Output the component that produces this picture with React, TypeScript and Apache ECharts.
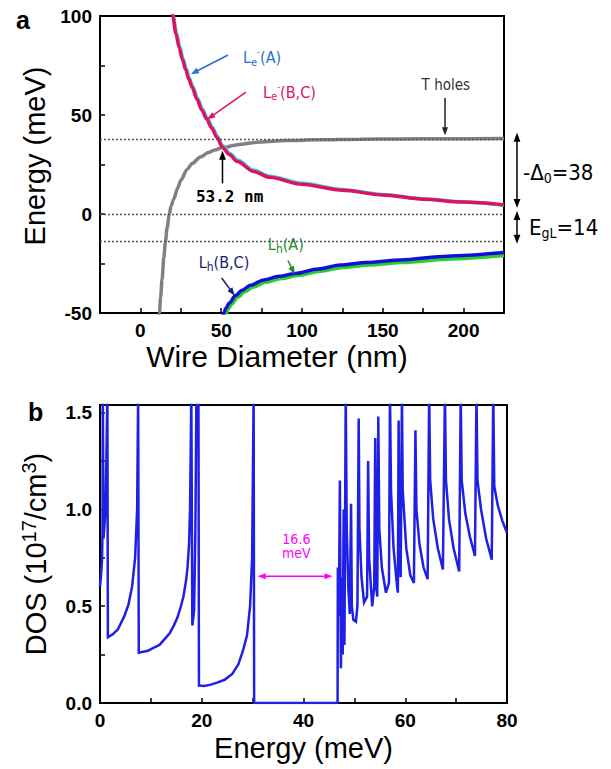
import React, { useEffect, useRef } from 'react';
import * as echarts from 'echarts';

// ---------- panel a data (Wire Diameter nm, Energy meV) ----------
const tHoles: number[][] = [
  [11.6, -52], [11.8, -50], [12.5, -42], [13.4, -33], [14.5, -22], [15.5, -14], [16.5, -7], [17.9, 0],
  [19, 4], [20.6, 7.5], [23, 13], [25, 17], [28.9, 22.5], [32, 25.5], [37.1, 28.8], [42, 31],
  [46, 32.3], [50.5, 33.4], [60, 35], [74, 36.4], [90, 37.1], [110, 37.5], [136, 37.8],
  [160, 37.9], [190, 38], [225, 38.1],
];
const leA: number[][] = [
  [19.8, 103], [20.3, 100], [22.3, 91.6], [24.3, 84.6], [26.3, 78.6], [28.3, 73.6], [30.3, 68.7],
  [32.3, 64.6], [35.3, 58.6], [38.3, 53.2], [41.3, 48.6], [44.3, 44.1], [47.8, 39.1], [50.8, 34.6],
  [55.3, 30.6], [60.3, 27.1], [70.3, 22.1], [80, 19.1], [100, 15.5], [125, 12.4], [150, 9.9],
  [175, 7.7], [200, 6.1], [225, 4.4],
];
const leBC: number[][] = [
  [19.5, 103], [20, 100], [22, 91], [24, 84], [26, 78], [28, 73], [30, 68], [32, 64], [35, 58],
  [38, 52.5], [41, 48], [44, 43.5], [47.5, 38.5], [50.5, 34], [55, 30], [60, 26.5], [70, 21.5],
  [80, 18.5], [100, 15], [125, 12], [150, 9.6], [175, 7.5], [200, 6], [225, 4.6],
];
const lhA: number[][] = [
  [52.5, -51], [53.1, -50], [54.5, -47.8], [56.5, -45.5], [60.3, -42], [64.5, -39.3], [69.5, -37],
  [77.8, -34.4], [87.5, -32.6], [97.4, -31.1], [111.5, -28.9], [125.3, -27], [141.5, -25.8],
  [162.4, -24.5], [191.5, -22.7], [225, -21],
];
const lhBC: number[][] = [
  [51, -51], [51.6, -50], [53, -47.5], [55, -45], [58.8, -41.2], [63, -38.5], [68, -36],
  [76.3, -33.3], [86, -31.5], [95.9, -30], [110, -27.8], [123.8, -25.8], [140, -24.5],
  [160.9, -23.2], [190, -21.3], [225, -19.5],
];
const levelLines = [38, 0, -14];

// ---------- panel b data (Energy meV, DOS 1e17/cm3) ----------
const dos: number[][] = [
  [0, 0.6], [0.2, 0.66], [0.4, 0.74], [0.5, 0.9], [0.55, 1.6], [0.7, 0.85], [1.1, 1.0], [1.45, 1.6], [1.55, 0.34],
  [2.5, 0.355], [3.5, 0.38], [4.8, 0.45], [5.6, 0.51], [6.3, 0.6], [6.9, 0.75], [7.3, 1.0], [7.5, 1.6], [7.62, 0.26],
  [8.5, 0.265], [9.4, 0.27], [10.5, 0.285], [11.7, 0.3], [12.7, 0.33], [13.7, 0.36], [14.5, 0.4], [15.2, 0.44],
  [15.9, 0.5], [16.4, 0.55], [16.9, 0.63], [17.2, 0.7], [17.5, 0.82], [17.7, 1.0], [17.95, 1.6], [18.15, 0.4],
  [18.5, 0.48], [18.75, 0.9], [18.95, 1.6], [19.35, 1.6], [19.45, 0.09],
  [20.5, 0.088], [21.8, 0.095], [23, 0.105], [24.5, 0.12], [26, 0.15], [27.2, 0.2], [28.1, 0.27], [28.9, 0.35],
  [29.5, 0.5], [29.9, 0.75], [30.2, 1.6], [30.3, 0], [46.7, 0],
  [46.75, 0.7], [46.95, 0.45], [47.15, 1.15], [47.35, 0.18], [47.55, 0.65], [47.7, 0.25], [47.9, 1.0], [48.05, 0.3],
  [48.3, 1.6], [48.5, 0.9], [48.8, 0.6], [49.1, 0.46], [49.35, 1.03], [49.5, 0.5], [49.8, 0.43], [50.3, 0.42],
  [50.6, 0.5], [50.85, 1.47], [51.0, 0.9], [51.4, 0.65], [51.9, 0.52], [52.5, 0.55], [52.7, 1.25], [52.9, 0.75],
  [53.5, 0.5], [53.9, 0.6], [54.1, 1.37], [54.3, 0.6], [54.5, 0.55], [54.7, 1.48], [54.9, 0.9], [55.4, 0.7],
  [56.2, 0.57], [56.8, 0.62], [57.0, 1.6], [57.2, 1.1], [57.7, 0.8], [58.4, 0.6], [58.55, 0.57], [58.7, 1.46],
  [58.85, 0.85], [59.1, 0.65], [59.35, 1.6], [59.5, 1.1], [60.2, 0.8], [61.0, 0.66], [61.7, 0.62], [62.0, 1.41],
  [62.2, 1.0], [62.8, 0.82], [63.6, 0.7], [64.4, 0.64], [64.7, 1.6], [64.9, 1.15], [65.5, 0.95], [66.4, 0.8],
  [67.4, 0.69], [67.8, 1.6], [68.0, 1.15], [68.6, 0.95], [69.5, 0.8], [70.6, 0.68], [70.9, 1.6], [71.1, 1.15],
  [71.8, 0.98], [72.7, 0.86], [73.7, 0.76], [74.0, 1.6], [74.2, 1.15], [74.9, 1.0], [75.9, 0.85], [77.0, 0.74],
  [77.3, 1.6], [77.5, 1.12], [78.2, 1.02], [79.1, 0.94], [80.0, 0.88],
];

// ---------- layout ----------
const G1 = { left: 100, top: 16, width: 404, height: 297 };
const X1 = [-25, 225];
const Y1 = [-50, 100];
const G2 = { left: 100, top: 405, width: 407, height: 298 };
const X2 = [0, 80];
const Y2 = [0, 1.54];

const px1 = (x: number) => G1.left + ((x - X1[0]) / (X1[1] - X1[0])) * G1.width;
const py1 = (y: number) => G1.top + ((Y1[1] - y) / (Y1[1] - Y1[0])) * G1.height;
const px2 = (x: number) => G2.left + ((x - X2[0]) / (X2[1] - X2[0])) * G2.width;
const py2 = (y: number) => G2.top + ((Y2[1] - y) / (Y2[1] - Y2[0])) * G2.height;

const SANS = "'DejaVu Sans Condensed', 'DejaVu Sans', sans-serif";
const ARIAL = "'Liberation Sans', Arial, sans-serif";

function head(x: number, y: number, ux: number, uy: number, color: string, size: number) {
  const bx = x - ux * size;
  const by = y - uy * size;
  const nx = -uy * size * 0.38;
  const ny = ux * size * 0.38;
  return {
    type: 'polygon',
    silent: true,
    z: 50,
    shape: { points: [[x, y], [bx + nx, by + ny], [bx - nx, by - ny]] },
    style: { fill: color },
  };
}

function arrow(x1: number, y1: number, x2: number, y2: number, color: string, width = 1.5, size = 8, double = false) {
  const len = Math.hypot(x2 - x1, y2 - y1);
  const ux = (x2 - x1) / len;
  const uy = (y2 - y1) / len;
  const sx = double ? x1 + ux * size * 0.8 : x1;
  const sy = double ? y1 + uy * size * 0.8 : y1;
  const els: any[] = [
    {
      type: 'line',
      silent: true,
      z: 50,
      shape: { x1: sx, y1: sy, x2: x2 - ux * size * 0.8, y2: y2 - uy * size * 0.8 },
      style: { stroke: color, lineWidth: width },
    },
    head(x2, y2, ux, uy, color, size),
  ];
  if (double) els.push(head(x1, y1, -ux, -uy, color, size));
  return els;
}

function txt(x: number, y: number, text: string, style: any, align = 'left', rotation = 0) {
  return {
    type: 'text',
    silent: true,
    z: 60,
    x,
    y,
    rotation,
    style: { text, align, verticalAlign: 'middle', ...style },
  };
}

export default function App() {
  const ref = useRef<HTMLDivElement>(null);

  useEffect(() => {
    if (!ref.current) return;
    const chart = echarts.init(ref.current, undefined, { renderer: 'svg' });

    const axisCommon = {
      axisLine: { show: true, onZero: false, lineStyle: { color: '#000', width: 2 } },
      axisTick: { show: true, inside: true, length: 5, lineStyle: { color: '#000', width: 1.5 } },
      splitLine: { show: false },
    };
    const tickLabel = {
      color: '#000',
      fontFamily: ARIAL,
      fontWeight: 'bold' as const,
      fontSize: 19,
      margin: 8,
    };
    const nameStyle = { color: '#000', fontFamily: ARIAL, fontSize: 29 };

    const curve = (name: string, data: number[][], color: string, width: number, idx: number) => ({
      name,
      type: 'line',
      xAxisIndex: idx,
      yAxisIndex: idx,
      data,
      symbol: 'none',
      smooth: 0.3,
      smoothMonotone: 'x',
      clip: true,
      lineStyle: { color, width },
      silent: true,
    });

    const graphics: any[] = [
      txt(16, 20, 'a', { fontSize: 25, fontWeight: 'bold', fontFamily: ARIAL, fill: '#000' }),
      txt(28, 412, 'b', { fontSize: 25, fontWeight: 'bold', fontFamily: ARIAL, fill: '#000' }),
      // axis titles of panel a
      txt(277, 356, 'Wire Diameter (nm)', { fontSize: 30, fontFamily: ARIAL, fill: '#000' }, 'center'),
      txt(35, 156, 'Energy (meV)', { fontSize: 29, fontFamily: ARIAL, fill: '#000' }, 'center', Math.PI / 2),
      // Le-(A)
      txt(px1(63.5), py1(79), '{n|L}{s|e}{p|-}{n|(A)}', {
        fill: '#2a6fd6',
        rich: {
          n: { fontSize: 16, fontFamily: SANS, fill: '#2a6fd6', lineHeight: 20 },
          s: { fontSize: 11, fontFamily: SANS, fill: '#2a6fd6', lineHeight: 13, verticalAlign: 'bottom' },
          p: { fontSize: 9, fontFamily: SANS, fill: '#2a6fd6', lineHeight: 12, verticalAlign: 'top' },
        },
      }),
      ...arrow(px1(54.2), py1(80.3), px1(31.2), py1(70.6), '#2a6fd6', 1.5, 8),
      // Le-(B,C)
      txt(px1(75.9), py1(61.6), '{n|L}{s|e}{p|-}{n|(B,C)}', {
        fill: '#e0115f',
        rich: {
          n: { fontSize: 16, fontFamily: SANS, fill: '#e0115f', lineHeight: 20 },
          s: { fontSize: 11, fontFamily: SANS, fill: '#e0115f', lineHeight: 13, verticalAlign: 'bottom' },
          p: { fontSize: 9, fontFamily: SANS, fill: '#e0115f', lineHeight: 12, verticalAlign: 'top' },
        },
      }),
      ...arrow(px1(65.3), py1(61.6), px1(41.4), py1(47.8), '#e0115f', 1.5, 8),
      // T holes
      txt(px1(189), py1(65), 'T holes', { fontSize: 15, fontFamily: SANS, fill: '#333' }, 'center'),
      ...arrow(px1(188.5), py1(58.6), px1(188.5), py1(39.8), '#222', 1.5, 8),
      // 53.2 nm
      txt(px1(55.2), py1(9), '53.2 nm', { fontSize: 16, fontWeight: 'bold', fontFamily: "'DejaVu Sans Mono', monospace", fill: '#000' }, 'center'),
      ...arrow(px1(50.8), py1(15.5), px1(50.8), py1(32), '#000', 1.5, 9),
      // Lh(B,C)
      txt(px1(51.7), py1(-24.7), '{n|L}{s|h}{n|(B,C)}', {
        fill: '#1b1b6e',
        align: 'center',
        rich: {
          n: { fontSize: 16, fontFamily: SANS, fill: '#1b1b6e', lineHeight: 20 },
          s: { fontSize: 12, fontFamily: SANS, fill: '#1b1b6e', lineHeight: 14, verticalAlign: 'bottom' },
        },
      }, 'center'),
      ...arrow(px1(50.3), py1(-32.3), px1(58.3), py1(-41.2), '#1b1b6e', 1.5, 8),
      // Lh(A)
      txt(px1(90), py1(-15.5), '{n|L}{s|h}{n|(A)}', {
        fill: '#1f8a2a',
        align: 'center',
        rich: {
          n: { fontSize: 16, fontFamily: SANS, fill: '#1f8a2a', lineHeight: 20 },
          s: { fontSize: 12, fontFamily: SANS, fill: '#1f8a2a', lineHeight: 14, verticalAlign: 'bottom' },
        },
      }, 'center'),
      ...arrow(px1(91.3), py1(-23.5), px1(95.5), py1(-30.5), '#1f8a2a', 1.5, 8),
      // right-side bracket arrows
      ...arrow(517, py1(41), 517, py1(3), '#000', 1.5, 9, true),
      ...arrow(517, py1(1.5), 517, py1(-15), '#000', 1.5, 9, true),
      txt(523, 172, '{n|-Δ}{s|0}{n|=38}', {
        fill: '#000',
        rich: {
          n: { fontSize: 22, fontFamily: SANS, fill: '#000', lineHeight: 26 },
          s: { fontSize: 14, fontFamily: SANS, fill: '#000', lineHeight: 16, verticalAlign: 'bottom' },
        },
      }),
      txt(529, 227, '{n|E}{s|gL}{n|=14}', {
        fill: '#000',
        rich: {
          n: { fontSize: 22, fontFamily: SANS, fill: '#000', lineHeight: 26 },
          s: { fontSize: 14, fontFamily: SANS, fill: '#000', lineHeight: 16, verticalAlign: 'bottom' },
        },
      }),
      // panel b gap annotation
      txt(px2(38.6), py2(0.85), '16.6', { fontSize: 14, fontFamily: SANS, fill: '#ff00ff' }, 'center'),
      txt(px2(38.6), py2(0.775), 'meV', { fontSize: 14, fontFamily: SANS, fill: '#ff00ff' }, 'center'),
      ...arrow(px2(31.0), py2(0.655), px2(45.7), py2(0.655), '#ff00ff', 1.5, 8, true),
    ];

    const option: any = {
      animation: false,
      backgroundColor: '#fff',
      grid: [
        { ...G1, show: true, borderColor: '#000', borderWidth: 2, containLabel: false },
        { ...G2, show: true, borderColor: '#000', borderWidth: 2, containLabel: false },
      ],
      xAxis: [
        {
          type: 'value', gridIndex: 0, min: X1[0], max: X1[1], interval: 25, ...axisCommon,
          axisLabel: { ...tickLabel, formatter: (v: number) => (v >= 0 && v <= 200 && v % 50 === 0 ? String(v) : '') },
        },
        {
          type: 'value', gridIndex: 1, min: X2[0], max: X2[1], interval: 10, ...axisCommon,
          axisLabel: { ...tickLabel, formatter: (v: number) => (v % 20 === 0 ? String(v) : '') },
          name: 'Energy (meV)', nameLocation: 'middle', nameGap: 30, nameTextStyle: { ...nameStyle },
        },
      ],
      yAxis: [
        {
          type: 'value', gridIndex: 0, min: Y1[0], max: Y1[1], interval: 25, ...axisCommon,
          axisLabel: { ...tickLabel, formatter: (v: number) => (v % 50 === 0 ? String(v) : '') },
        },
        {
          type: 'value', gridIndex: 1, min: Y2[0], max: Y2[1], interval: 0.25, ...axisCommon,
          axisLabel: {
            ...tickLabel,
            formatter: (v: number) => (Math.abs(v / 0.5 - Math.round(v / 0.5)) < 1e-6 ? v.toFixed(1) : ''),
          },
          name: 'DOS (10{s|17}/cm{s|3})', nameLocation: 'middle', nameGap: 47,
          nameTextStyle: {
            ...nameStyle,
            lineHeight: 34,
            rich: { s: { fontSize: 20, fontFamily: ARIAL, color: '#000', lineHeight: 22, verticalAlign: 'top' } },
          },
        },
      ],
      series: [
        {
          ...curve('T holes', tHoles, '#808080', 3.5, 0),
          markLine: {
            silent: true,
            symbol: 'none',
            animation: false,
            label: { show: false },
            lineStyle: { type: [2, 2], color: '#555', width: 1.4 },
            data: levelLines.map((v) => ({ yAxis: v })),
          },
        },
        curve('Le-(A)', leA, '#33d0e8', 3.5, 0),
        curve('Le-(B,C)', leBC, '#e0115f', 3.5, 0),
        curve('Lh(A)', lhA, '#2ad02a', 3.5, 0),
        curve('Lh(B,C)', lhBC, '#1010d8', 3.5, 0),
        {
          name: 'DOS', type: 'line', xAxisIndex: 1, yAxisIndex: 1, data: dos, symbol: 'none',
          clip: true, silent: true, lineStyle: { color: '#1f1fe6', width: 2.5, join: 'miter' },
        },
      ],
      graphic: graphics,
    };

    chart.setOption(option);
    return () => chart.dispose();
  }, []);

  return <div ref={ref} style={{ position: 'fixed', left: 0, top: 0, width: 611, height: 769, background: '#fff' }} />;
}
